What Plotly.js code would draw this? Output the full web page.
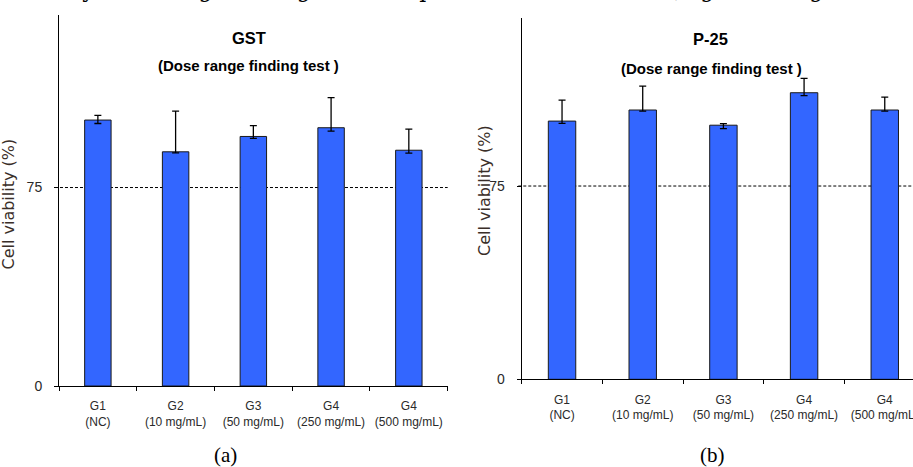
<!DOCTYPE html>
<html>
<head>
<meta charset="utf-8">
<script src="https://cdn.plot.ly/plotly-3.0.1.min.js"></script>
<style>
  html, body { margin: 0; padding: 0; background: #fff; }
  #chart { width: 913px; height: 467px; }
</style>
</head>
<body>
<div id="chart"></div>
<script>
// ---- Data ----
const groups = ['G1', 'G2', 'G3', 'G4', 'G4'];
const doses = ['(NC)', '(10 mg/mL)', '(50 mg/mL)', '(250 mg/mL)', '(500 mg/mL)'];

const gstValues   = [100.5, 88.5, 94.3, 97.6, 89.1];
const gstErrPlus  = [1.8, 15.4, 4.1, 11.4, 8.0];
const gstErrMinus = [1.3, 0.4, 0.7, 1.3, 1.1];

const p25Values   = [100.2, 104.5, 98.6, 111.2, 104.5];
const p25ErrPlus  = [8.1, 9.3, 0.6, 5.6, 5.0];
const p25ErrMinus = [0.9, 0.4, 1.3, 1.1, 0.4];

const threshold = 75;
const yTickVals = [0, 75];
const yTickText = ['0', '75'];

const panelTitles = ['GST', 'P-25'];
const panelSubtitle = '(Dose range finding test )';
const panelLetters = ['(a)', '(b)'];
const yTitle = 'Cell viability (%)';
const pageTextLeft = 'The preliminary';
const pageTextRight = 'dose range finding test is depicted and detailed in (Figure 1, Figure 2 and Table 1)';

// ---- Build ----
const labels = groups.map((g, i) => g + '<br>' + doses[i]);

const W = 913, H = 467;
const px = p => p / W;
const py = p => 1 - p / H;

const sans = "'Liberation Sans', Arial, sans-serif";
const serif = "'Liberation Serif', 'DejaVu Serif', serif";
const barColor = '#3366FF';

function barTrace(vals, plus, minus, xa, ya) {
  return {
    type: 'bar',
    x: labels,
    y: vals,
    xaxis: xa,
    yaxis: ya,
    marker: { color: barColor, line: { color: '#1a1a1a', width: 1 } },
    error_y: {
      type: 'data', symmetric: false, array: plus, arrayminus: minus,
      color: '#000', thickness: 1.3, width: 3.5
    },
    hoverinfo: 'skip',
    showlegend: false
  };
}

const data = [
  barTrace(gstValues, gstErrPlus, gstErrMinus, 'x', 'y'),
  barTrace(p25Values, p25ErrPlus, p25ErrMinus, 'x2', 'y2')
];

const xCommon = {
  type: 'category',
  showline: true, linecolor: '#000', linewidth: 1,
  ticks: 'outside', tickson: 'boundaries', ticklen: 4, tickcolor: '#000', tickwidth: 1,
  tickangle: 0,
  tickfont: { family: sans, size: 12, color: '#2a2a2a' },
  ticklabelstandoff: 9,
  showgrid: false, zeroline: false, fixedrange: true
};
const yCommon = {
  range: [0, 140.2],
  showline: true, linecolor: '#000', linewidth: 1,
  ticks: 'outside', ticklen: 4, tickcolor: '#000', tickwidth: 1,
  tickvals: yTickVals, ticktext: yTickText,
  tickfont: { family: sans, size: 14, color: '#2a2a2a' },
  ticklabelstandoff: 9,
  showgrid: false, zeroline: false, fixedrange: true
};

function ann(text, x, y, font, extra) {
  return Object.assign({
    text: text, x: px(x), y: py(y), xref: 'paper', yref: 'paper',
    xanchor: 'center', yanchor: 'middle', showarrow: false, font: font
  }, extra || {});
}

const titleFont = { family: sans, size: 16.5, color: '#000' };
const subFont = { family: sans, size: 15, color: '#000' };
const yTitleFont = { family: "'DejaVu Sans', Verdana, sans-serif", size: 16, color: '#3a2e28' };
const letterFont = { family: serif, size: 21, color: '#000' };
const pageFont = { family: "'DejaVu Serif', serif", size: 22, color: '#000' };

const layout = {
  width: W, height: H,
  margin: { l: 0, r: 0, t: 0, b: 0, pad: 0 },
  paper_bgcolor: '#fff', plot_bgcolor: '#fff',
  bargap: 0.66,
  xaxis: Object.assign({}, xCommon, { domain: [px(59), px(447.7)], range: [-0.5, 4.5], anchor: 'y' }),
  yaxis: Object.assign({}, yCommon, { domain: [py(386), py(15)], anchor: 'x' }),
  xaxis2: Object.assign({}, xCommon, { domain: [px(521.7), 1], range: [-0.5, 4.35], anchor: 'y2' }),
  yaxis2: Object.assign({}, yCommon, { domain: [py(379.3), py(18)], anchor: 'x2' }),
  shapes: [
    { type: 'line', xref: 'x domain', yref: 'y', x0: -0.0103, x1: 1, y0: threshold, y1: threshold,
      line: { color: '#000', width: 1, dash: '3px,2px' }, layer: 'below' },
    { type: 'line', xref: 'x2 domain', yref: 'y2', x0: -0.0087, x1: 1, y0: threshold, y1: threshold,
      line: { color: '#000', width: 1, dash: '3px,2px' }, layer: 'below' }
  ],
  annotations: [
    ann('<b>' + panelTitles[0] + '</b>', 249, 38.5, titleFont),
    ann('<b>' + panelSubtitle + '</b>', 249, 66, subFont),
    ann('<b>' + panelTitles[1] + '</b>', 710, 39.5, titleFont),
    ann('<b>' + panelSubtitle + '</b>', 711, 68, subFont),
    ann(yTitle, 8.5, 204, yTitleFont, { textangle: -90 }),
    ann(yTitle, 484, 191, yTitleFont, { textangle: -90 }),
    ann(panelLetters[0], 225, 455, letterFont),
    ann(panelLetters[1], 712, 455, letterFont),
    ann(pageTextLeft, 97, 4, pageFont, { xanchor: 'right', yanchor: 'bottom' }),
    ann(pageTextRight, 100, 4, pageFont, { xanchor: 'left', yanchor: 'bottom' })
  ]
};

Plotly.newPlot('chart', data, layout, { displayModeBar: false, staticPlot: true });
</script>
</body>
</html>
